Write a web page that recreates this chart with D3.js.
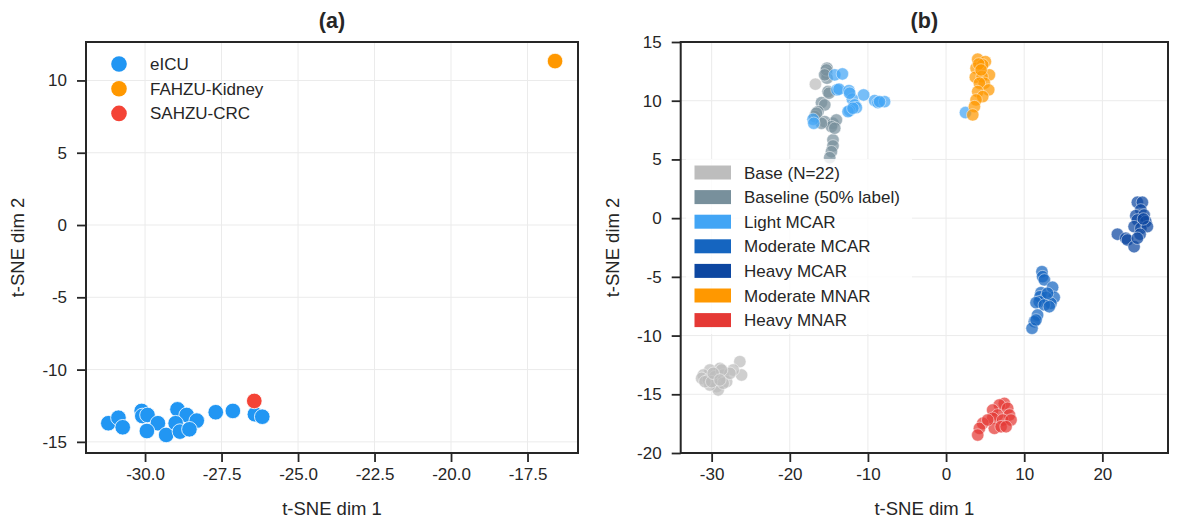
<!DOCTYPE html>
<html><head><meta charset="utf-8">
<script src="https://cdn.jsdelivr.net/npm/d3@7"></script>
<style>
body{margin:0;background:#fff;}
text{font-family:"Liberation Sans",Arial,sans-serif;fill:#262626;}
</style></head>
<body><svg id="c" width="1181" height="525"></svg>
<script>
// ---- Panel (a) data ----
const aCohorts = ["eICU","FAHZU-Kidney","SAHZU-CRC"];
const aColors = ["#2196F3","#FF9800","#F44336"];
const eicuX = [-31.20,-30.87,-30.73,-30.11,-30.09,-29.92,-29.58,-29.94,-29.31,-28.94,-28.64,-28.31,-29.00,-28.86,-28.55,-27.69,-27.13,-26.41,-26.17];
const eicuY = [-13.71,-13.33,-13.99,-12.86,-13.21,-13.14,-13.71,-14.25,-14.52,-12.75,-13.14,-13.53,-13.71,-14.29,-14.13,-12.95,-12.86,-13.09,-13.26];
const kidneyX = [-16.6];
const kidneyY = [11.34];
const crcX = [-26.43];
const crcY = [-12.17];
const aXTicks = [-30.0,-27.5,-25.0,-22.5,-20.0,-17.5];
const aYTicks = [-15,-10,-5,0,5,10];

// ---- Panel (b) data ----
const bGroups = ["Base (N=22)","Baseline (50% label)","Light MCAR","Moderate MCAR","Heavy MCAR","Moderate MNAR","Heavy MNAR"];
const bColors = ["#BDBDBD","#78909C","#42A5F5","#1565C0","#0D47A1","#FF9800","#E53935"];
const baseX = [-26.39,-26.17,-27.24,-28.94,-30.22,-31.07,-31.28,-30.44,-29.58,-28.52,-28.08,-29.36,-29.16,-30.22,-27.66,-28.52,-30.86,-30.00,-28.72,-29.80,-28.94,-16.72];
const baseY = [-12.22,-13.36,-12.93,-12.79,-12.93,-13.36,-13.64,-13.78,-13.50,-13.36,-13.93,-14.35,-14.63,-14.21,-13.21,-14.06,-13.93,-13.93,-12.93,-13.21,-13.78,11.41];
const baselineX = [-15.24,-15.31,-15.24,-15.11,-14.98,-15.95,-15.53,-16.39,-16.81,-15.53,-14.47,-14.04,-14.67,-14.47,-14.47,-14.67,-14.89,-15.95,-16.59,-15.31,-15.53,-14.25];
const baselineY = [12.77,12.34,11.92,10.78,10.64,9.84,9.64,9.07,8.65,8.22,8.08,8.36,7.79,6.66,6.15,5.66,5.15,8.08,8.94,12.62,12.20,7.66];
const lightX = [-14.25,-13.27,-13.96,-13.70,-12.43,-10.55,-11.99,-11.70,-11.48,-12.34,-12.55,-9.14,-8.72,-7.87,-8.51,-17.02,-16.93,-12.34,-11.92,2.48];
const lightY = [12.20,12.28,10.92,10.98,10.86,10.49,10.13,9.64,9.41,9.16,9.07,10.01,9.84,9.92,9.92,8.42,8.08,10.64,9.36,8.99];
const modMcarX = [12.27,12.35,12.57,13.63,13.84,12.15,12.02,12.78,13.42,11.93,11.51,12.57,13.21,11.71,11.29,11.00,11.51,12.99];
const modMcarY = [-4.56,-4.98,-5.26,-5.89,-6.74,-6.35,-6.69,-6.74,-7.25,-7.11,-7.20,-7.39,-7.54,-8.25,-8.82,-9.38,-8.67,-6.40];
const heavyMcarX = [24.48,25.12,24.92,24.28,25.34,24.48,25.56,24.06,24.92,25.76,24.83,21.93,23.00,23.21,24.06,24.48,25.25];
const heavyMcarY = [1.35,1.35,0.70,0.21,0.27,-0.15,-0.30,-0.72,-0.86,-0.72,-1.37,-1.37,-1.71,-1.86,-2.43,-1.71,-0.07];
const modMnarX = [4.05,5.03,3.84,4.69,5.54,3.75,4.61,4.90,4.27,5.45,4.05,4.69,3.84,3.63,3.41,4.18,4.48];
const modMnarY = [13.54,13.33,12.77,13.05,12.20,12.00,12.05,11.49,11.49,10.92,10.78,10.35,10.07,9.50,8.79,13.13,12.62];
const heavyMnarX = [7.46,6.82,5.96,7.88,8.10,6.60,5.96,7.24,8.31,6.18,7.04,7.68,4.69,4.27,4.05,5.33];
const heavyMnarY = [-15.77,-15.91,-16.34,-16.19,-16.76,-16.76,-17.04,-17.19,-17.19,-17.90,-17.76,-17.76,-17.47,-17.90,-18.47,-17.19];
const bXTicks = [-30,-20,-10,0,10,20];
const bYTicks = [-20,-15,-10,-5,0,5,10,15];

const svg = d3.select("#c");

function panel(o){
  const g = svg.append("g");
  const x = d3.scaleLinear().domain(o.xd).range([o.l,o.r]);
  const y = d3.scaleLinear().domain(o.yd).range([o.b,o.t]);
  // grid
  g.append("g").selectAll("line").data(o.xt).join("line")
    .attr("x1",d=>x(d)).attr("x2",d=>x(d)).attr("y1",o.t).attr("y2",o.b)
    .attr("stroke","#ebebeb").attr("stroke-width",1);
  g.append("g").selectAll("line").data(o.yt).join("line")
    .attr("y1",d=>y(d)).attr("y2",d=>y(d)).attr("x1",o.l).attr("x2",o.r)
    .attr("stroke","#ebebeb").attr("stroke-width",1);
  // axes
  const xa = g.append("g").attr("transform",`translate(0,${o.b})`)
    .call(d3.axisBottom(x).tickValues(o.xt).tickFormat(o.xf).tickSize(9).tickPadding(6));
  const ya = g.append("g").attr("transform",`translate(${o.l},0)`)
    .call(d3.axisLeft(y).tickValues(o.yt).tickFormat(d=>String(d)).tickSize(9).tickPadding(10));
  [xa,ya].forEach(a=>{
    a.select(".domain").remove();
    a.selectAll(".tick line").attr("stroke","#262626").attr("stroke-width",1.8);
    a.selectAll(".tick text").attr("font-size",17).attr("fill","#262626")
      .style("font-family","'Liberation Sans',Arial,sans-serif");
  });
  const plot = g.append("g");
  g.append("rect").attr("x",o.l).attr("y",o.t).attr("width",o.r-o.l).attr("height",o.b-o.t)
    .attr("fill","none").attr("stroke","#262626").attr("stroke-width",2);
  g.append("text").attr("x",(o.l+o.r)/2).attr("y",27.5).attr("text-anchor","middle")
    .attr("font-size",21.5).attr("font-weight","bold").text(o.title);
  g.append("text").attr("x",(o.l+o.r)/2).attr("y",515).attr("text-anchor","middle")
    .attr("font-size",18.5).text("t-SNE dim 1");
  g.append("text").attr("transform",`translate(${o.l-62},${(o.t+o.b)/2}) rotate(-90)`)
    .attr("text-anchor","middle").attr("font-size",18.5).text("t-SNE dim 2");
  return {g,plot,x,y};
}

// Panel (a)
const A = panel({l:86,r:578,t:42,b:453,xd:[-31.93,-15.85],yd:[-15.77,12.66],
  xt:aXTicks,yt:aYTicks,xf:d=>d.toFixed(1),title:"(a)"});
const aSeries = [[eicuX,eicuY],[kidneyX,kidneyY],[crcX,crcY]];
aSeries.forEach((s,i)=>{
  A.plot.append("g").selectAll("circle").data(s[0].map((v,j)=>[v,s[1][j]])).join("circle")
    .attr("cx",d=>A.x(d[0])).attr("cy",d=>A.y(d[1])).attr("r",7.8)
    .attr("fill",aColors[i]).attr("stroke","#fff").attr("stroke-width",0.8);
});
const aLeg = A.g.append("g");
aCohorts.forEach((c,i)=>{
  aLeg.append("circle").attr("cx",119).attr("cy",64+i*24.7).attr("r",7.8).attr("fill",aColors[i]);
  aLeg.append("text").attr("x",150).attr("y",64+i*24.7+6).attr("font-size",17).text(c);
});

// Panel (b)
const B = panel({l:680.7,r:1168,t:42,b:453,xd:[-33.96,28.4],yd:[-20,15],
  xt:bXTicks,yt:bYTicks,xf:d=>String(d),title:"(b)"});
const bSeries = [[baseX,baseY],[baselineX,baselineY],[lightX,lightY],[modMcarX,modMcarY],[heavyMcarX,heavyMcarY],[modMnarX,modMnarY],[heavyMnarX,heavyMnarY]];
bSeries.forEach((s,i)=>{
  B.plot.append("g").selectAll("circle").data(s[0].map((v,j)=>[v,s[1][j]])).join("circle")
    .attr("cx",d=>B.x(d[0])).attr("cy",d=>B.y(d[1])).attr("r",6.2)
    .attr("fill",bColors[i]).attr("fill-opacity",0.72)
    .attr("stroke","#fff").attr("stroke-opacity",0.8).attr("stroke-width",0.6);
});
const bLeg = B.g.append("g");
bLeg.append("rect").attr("x",686).attr("y",159).attr("width",226).attr("height",175)
  .attr("fill","#fff").attr("fill-opacity",0.8);
bGroups.forEach((c,i)=>{
  const cy = 172.5+i*24.6;
  bLeg.append("rect").attr("x",694.5).attr("y",cy-7).attr("width",36.5).attr("height",14).attr("fill",bColors[i]);
  bLeg.append("text").attr("x",744).attr("y",cy+6).attr("font-size",17).text(c);
});
</script></body></html>
